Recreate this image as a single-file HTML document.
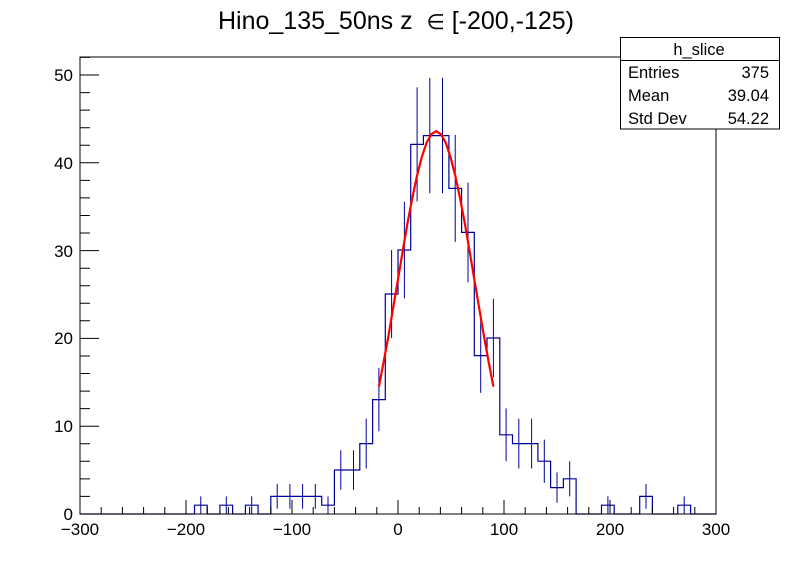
<!DOCTYPE html>
<html><head><meta charset="utf-8"><style>
html,body{margin:0;padding:0;background:#fff;}
svg{display:block;font-family:"Liberation Sans",sans-serif;}
</style></head><body>
<svg width="796" height="572" viewBox="0 0 796 572" xmlns="http://www.w3.org/2000/svg">
<rect width="796" height="572" fill="#fff"/>
<text x="396" y="29" font-size="25" text-anchor="middle" fill="#000" xml:space="preserve">Hino_135_50ns z  <tspan font-size="21">∈</tspan> [-200,-125)</text>
<path fill="none" stroke="#000099" stroke-width="1.2" d="M80 514 H194.5 V505.2 H207.2 V514 H219.9 V505.2 H232.6 V514 H245.4 V505.2 H258.1 V514 H270.8 V496.4 H321.7 V505.2 H334.4 V470 H359.8 V443.6 H372.6 V399.6 H385.3 V294 H398 V250 H410.7 V144.4 H423.4 V135.6 H448.9 V188.4 H461.6 V232.4 H474.3 V355.6 H487 V338 H499.8 V434.8 H512.5 V443.6 H537.9 V461.2 H550.6 V487.6 H563.4 V478.8 H576.1 V514 H601.5 V505.2 H614.2 V514 H639.7 V496.4 H652.4 V514 H677.8 V505.2 H690.6 V514 H716"/>
<path fill="none" stroke="#000099" stroke-width="1" d="M200.8 496.4V514 M226.3 496.4V514 M251.7 496.4V514 M277.2 484V508.8 M289.9 484V508.8 M302.6 484V508.8 M315.3 484V508.8 M328 496.4V514 M340.8 450.3V489.7 M353.5 450.3V489.7 M366.2 418.7V468.5 M378.9 367.9V431.3 M391.6 250V338 M404.4 201.8V298.2 M417.1 87.4V201.4 M429.8 77.9V193.3 M442.5 77.9V193.3 M455.2 134.9V241.9 M468 182.6V282.2 M480.7 318.3V392.9 M493.4 298.6V377.4 M506.1 408.4V461.2 M518.8 418.7V468.5 M531.6 418.7V468.5 M544.3 439.6V482.8 M557 472.4V502.8 M569.7 461.2V496.4 M607.9 496.4V514 M646 484V508.8 M684.2 496.4V514"/>
<polyline fill="none" stroke="#ff0000" stroke-width="2.2" points="378.9,386.7 383.7,361.5 388.5,335.7 393.2,307.5 398,279.3 402.8,250.6 407.5,223.2 412.3,198 417.1,175.3 421.8,157 426.6,142.7 431.4,134.2 436.2,131.2 440.9,134.2 445.7,142.7 450.5,157 455.2,175.3 460,198 464.8,223.2 469.5,250.6 474.3,279.3 479.1,307.5 483.9,335.7 488.6,361.5 493.4,386.7"/>
<rect x="80" y="57" width="636" height="457" fill="none" stroke="#000" stroke-width="1"/>
<path stroke="#000" stroke-width="1" d="M80 514H99 M80 426.2H99 M80 338.4H99 M80 250.6H99 M80 162.8H99 M80 75H99
M80 496.4H90 M80 478.9H90 M80 461.3H90 M80 443.8H90
M80 408.6H90 M80 391.1H90 M80 373.5H90 M80 356H90
M80 320.8H90 M80 303.3H90 M80 285.7H90 M80 268.2H90
M80 233H90 M80 215.5H90 M80 197.9H90 M80 180.4H90
M80 145.2H90 M80 127.7H90 M80 110.1H90 M80 92.6H90
M80 57.4H90"/>
<path stroke="#000" stroke-width="1" d="M80 514V500 M186 514V500 M292 514V500 M398 514V500 M504 514V500 M610 514V500 M716 514V500
M101.2 514V507 M122.4 514V507 M143.6 514V507 M164.8 514V507
M207.2 514V507 M228.4 514V507 M249.6 514V507 M270.8 514V507
M313.2 514V507 M334.4 514V507 M355.6 514V507 M376.8 514V507
M419.2 514V507 M440.4 514V507 M461.6 514V507 M482.8 514V507
M525.2 514V507 M546.4 514V507 M567.6 514V507 M588.8 514V507
M631.2 514V507 M652.4 514V507 M673.6 514V507 M694.8 514V507"/>
<g font-size="17" fill="#000" text-anchor="end">
<text x="73" y="520">0</text>
<text x="73" y="432">10</text>
<text x="73" y="344">20</text>
<text x="73" y="257">30</text>
<text x="73" y="169">40</text>
<text x="73" y="81">50</text>
</g>
<g font-size="17" fill="#000" text-anchor="middle">
<text x="80" y="535">−300</text>
<text x="186" y="535">−200</text>
<text x="292" y="535">−100</text>
<text x="398" y="535">0</text>
<text x="504" y="535">100</text>
<text x="610" y="535">200</text>
<text x="716" y="535">300</text>
</g>
<rect x="620.5" y="37.5" width="159" height="91.5" fill="#fff" stroke="#000" stroke-width="1"/>
<line x1="620.5" y1="60.5" x2="779.5" y2="60.5" stroke="#000" stroke-width="1"/>
<g font-size="16.5" fill="#000">
<text x="699" y="55" text-anchor="middle">h_slice</text>
<text x="628" y="78">Entries</text><text x="769" y="78" text-anchor="end">375</text>
<text x="628" y="101">Mean</text><text x="769" y="101" text-anchor="end">39.04</text>
<text x="628" y="124">Std Dev</text><text x="769" y="124" text-anchor="end">54.22</text>
</g>
</svg>
</body></html>
